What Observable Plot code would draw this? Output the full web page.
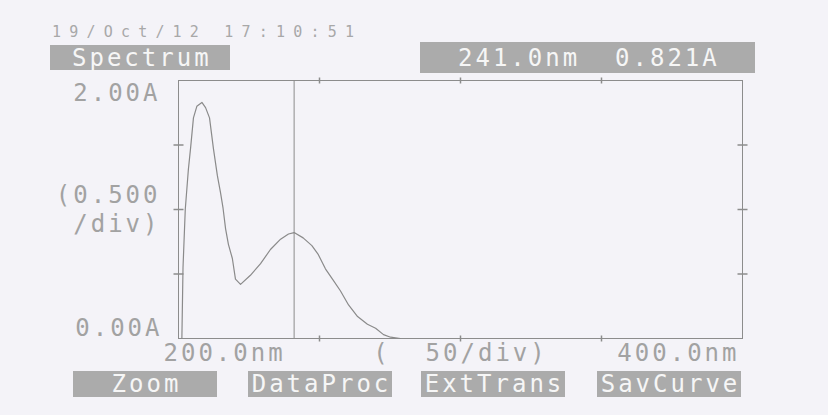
<!DOCTYPE html>
<html>
<head>
<meta charset="utf-8">
<script src="https://cdn.jsdelivr.net/npm/d3@7"></script>
<script src="https://cdn.jsdelivr.net/npm/@observablehq/plot@0.6"></script>
<style>
  html, body { margin: 0; padding: 0; background: #f4f3f8; }
  #wrap { width: 828px; height: 415px; font-family: "DejaVu Sans Mono", monospace; color: #a2a2a2; }
  #header { position: relative; height: 78px; }
  #footer { position: relative; height: 47px; }
  #date { position: absolute; left: 52px; top: 25px; font-size: 15px; letter-spacing: 8.2px; white-space: pre; line-height: 1; color: #a8a8a8; }
  .box { position: absolute; background: #ababab; color: #f6f6f6; font-size: 24px; letter-spacing: 3px; line-height: 1; white-space: pre; display: flex; align-items: center; box-sizing: border-box; }
  .btn { justify-content: center; padding-left: 3px; }
  #plot svg { display: block; }
</style>
</head>
<body>
<div id="wrap">
  <div id="header"></div>
  <div id="plot"></div>
  <div id="footer"></div>
</div>
<script>
// ---- data ----
const timestamp = "19/Oct/12 17:10:51";
const modeLabel = "Spectrum";
const cursorNm = 241.0;
const cursorAbs = 0.821;
const buttons = ["Zoom", "DataProc", "ExtTrans", "SavCurve"];

const xDomain = [200, 400];           // nm
const yDomain = [0, 2];               // absorbance
const xTicks = [250, 300, 350];       // 50 nm / div
const yTicks = [0.5, 1.0, 1.5];       // 0.500 A / div
const xLabelLeft = "200.0nm";
const xLabelRight = "400.0nm";
const xLabelMid = "(\u00a0\u00a050/div)";
const yLabelTop = "2.00A";
const yLabelMid = "(0.500\n/div)";
const yLabelBottom = "0.00A";

const wavelength = [201.2, 201.6, 202.4, 203.5, 204.3, 205.3, 206.5, 208.3, 209.6, 211.0, 212.4, 213.8, 214.9, 215.8, 216.7, 217.7, 219.1, 220.2, 222.0, 225.5, 229.1, 232.6, 236.2, 239.0, 241.0, 244.2, 247.3, 249.6, 252.1, 254.6, 257.4, 260.3, 263.5, 267.0, 269.9, 272.7, 275.2, 278.7];
const absorbance = [0.00, 0.55, 1.00, 1.31, 1.48, 1.71, 1.80, 1.83, 1.79, 1.71, 1.47, 1.26, 1.13, 1.01, 0.85, 0.73, 0.62, 0.46, 0.42, 0.49, 0.58, 0.69, 0.77, 0.81, 0.821, 0.78, 0.72, 0.65, 0.54, 0.46, 0.37, 0.26, 0.17, 0.11, 0.08, 0.03, 0.01, 0.00];

const spectrum = wavelength.map((nm, i) => ({nm, A: absorbance[i]}));

// ---- header / footer (HTML) ----
const header = document.getElementById("header");
const date = document.createElement("div");
date.id = "date"; date.textContent = timestamp;
header.appendChild(date);

function box(parent, text, left, top, width, height, padLeft, cls) {
  const d = document.createElement("div");
  d.className = "box" + (cls ? " " + cls : "");
  d.textContent = text;
  Object.assign(d.style, {left: left + "px", top: top + "px", width: width + "px", height: height + "px"});
  if (padLeft != null) d.style.paddingLeft = padLeft + "px";
  parent.appendChild(d);
}
box(header, modeLabel, 50, 45, 180, 25, 22);
box(header, `${cursorNm.toFixed(1)}nm  ${cursorAbs.toFixed(3)}A`, 420, 42, 335, 31, 38);

const footer = document.getElementById("footer");
const btnLeft = [73, 248, 421, 597];
buttons.forEach((b, i) => box(footer, b, btnLeft[i], 3, 144, 26, null, "btn"));

// ---- plot ----
const ink = "#8c8c8c";
const textInk = "#a2a2a2";
const vbar = {draw(ctx, size) { const r = Math.sqrt(size / Math.PI); ctx.moveTo(0, -r); ctx.lineTo(0, r); }};
const hbar = {draw(ctx, size) { const r = Math.sqrt(size / Math.PI); ctx.moveTo(-r, 0); ctx.lineTo(r, 0); }};

const xTickPts = xTicks.flatMap(x => [{x, y: yDomain[0]}, {x, y: yDomain[1]}]);
const yTickPts = yTicks.flatMap(y => [{x: xDomain[0], y}, {x: xDomain[1], y}]);

const big = {fontSize: 24, fontFamily: "DejaVu Sans Mono", fill: textInk};

const chart = Plot.plot({
  width: 828,
  height: 290,
  marginLeft: 178,
  marginRight: 86,
  marginTop: 2,
  marginBottom: 30,
  style: {background: "none", overflow: "visible", letterSpacing: "3px"},
  x: {domain: xDomain, axis: null},
  y: {domain: yDomain, axis: null},
  marks: [
    Plot.frame({stroke: ink, strokeWidth: 1}),
    Plot.ruleX([cursorNm], {stroke: ink, strokeWidth: 1}),
    Plot.dot(xTickPts, {x: "x", y: "y", symbol: vbar, r: 3, stroke: ink, fill: "none"}),
    Plot.dot(yTickPts, {x: "x", y: "y", symbol: hbar, r: 5, stroke: ink, fill: "none"}),
    Plot.line(spectrum, {x: "nm", y: "A", stroke: "#8a8a8a", strokeWidth: 1.2}),
    Plot.text([yDomain[1]], {y: d => d, text: () => yLabelTop, frameAnchor: "left", textAnchor: "end", lineAnchor: "top", dx: -18, dy: 3, ...big}),
    Plot.text([yDomain[0]], {y: d => d, text: () => yLabelBottom, frameAnchor: "left", textAnchor: "end", lineAnchor: "bottom", dx: -16, dy: -3, ...big}),
    Plot.text([(yDomain[0] + yDomain[1]) / 2], {y: d => d, text: () => yLabelMid, frameAnchor: "left", textAnchor: "end", lineAnchor: "middle", lineHeight: 1.2, dx: -18, dy: -1, ...big}),
    Plot.text([xDomain[0]], {x: d => d, text: () => xLabelLeft, frameAnchor: "bottom", textAnchor: "start", lineAnchor: "top", dx: -15, dy: 5, ...big}),
    Plot.text([xDomain[1]], {x: d => d, text: () => xLabelRight, frameAnchor: "bottom", textAnchor: "end", lineAnchor: "top", dx: -3, dy: 5, ...big}),
    Plot.text([(xDomain[0] + xDomain[1]) / 2], {x: d => d, text: () => xLabelMid, frameAnchor: "bottom", textAnchor: "middle", lineAnchor: "top", dx: 0, dy: 5, ...big})
  ]
});
document.getElementById("plot").appendChild(chart);
</script>
</body>
</html>
